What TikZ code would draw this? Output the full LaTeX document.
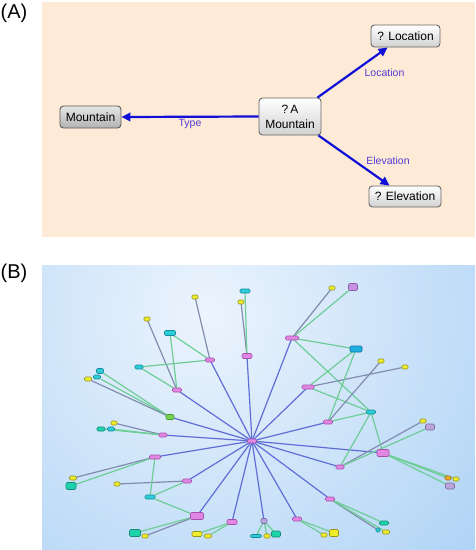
\documentclass[tikz,border=0pt]{standalone}
\usepackage{fontspec}
\setmainfont{Liberation Sans}
\usetikzlibrary{arrows.meta}
\pgfdeclarelayer{bglayer}
\pgfdeclarelayer{edgelayer}
\pgfsetlayers{bglayer,edgelayer,main}
\definecolor{peach}{RGB}{253,235,215}
\definecolor{arrC}{RGB}{15,15,215}
\definecolor{labC}{RGB}{80,60,210}
\definecolor{bgIn}{RGB}{236,244,253}
\definecolor{bgOut}{RGB}{145,195,242}
\definecolor{pkF}{RGB}{225,135,225}\definecolor{pkD}{RGB}{165,80,175}
\definecolor{ylF}{RGB}{238,236,45}\definecolor{ylD}{RGB}{150,150,30}
\definecolor{cyF}{RGB}{45,205,215}\definecolor{cyD}{RGB}{20,140,160}
\definecolor{tlF}{RGB}{30,210,170}\definecolor{tlD}{RGB}{20,140,120}
\definecolor{gnF}{RGB}{120,210,80}\definecolor{gnD}{RGB}{70,150,50}
\definecolor{lvF}{RGB}{185,165,220}\definecolor{lvD}{RGB}{125,110,165}
\definecolor{puF}{RGB}{200,145,225}\definecolor{puD}{RGB}{135,95,165}
\definecolor{orF}{RGB}{230,170,40}\definecolor{orD}{RGB}{160,110,20}
\definecolor{cbF}{RGB}{30,175,225}\definecolor{cbD}{RGB}{20,110,160}
\definecolor{spkC}{RGB}{95,110,215}
\definecolor{grnC}{RGB}{110,205,150}
\definecolor{gryC}{RGB}{130,140,175}
\tikzset{
  anode/.style={draw=black!60, line width=0.9pt, rounded corners=3.5pt, inner sep=0pt,
    top color=white, bottom color=black!18, align=center,
    font=\fontsize{12}{14.5}\selectfont},
  mtnode/.style={anode, top color=black!10, bottom color=black!30, draw=black!65},
  arr/.style={draw=arrC, line width=2.2pt, -{Triangle[length=9pt,width=8.5pt]}},
  lab/.style={text=labC, font=\fontsize{10.5}{12}\selectfont, inner sep=1pt},
  plabel/.style={font=\fontsize{20}{24}\selectfont, inner sep=0pt},
  bnode/.style={line width=0.6pt, rounded corners=1.3pt, inner sep=0pt, outer sep=0pt},
  spoke/.style={draw=spkC, line width=1.2pt},
  grn/.style={draw=grnC, line width=1.2pt},
  gry/.style={draw=gryC, line width=1.2pt}
}
\newcommand\bn[6]{\node[bnode,fill=#1F,draw=#1D,minimum width=#5pt,minimum height=#6pt] (#2) at (#3,#4) {};}
\newcommand\edg[3]{\draw[#1] (#2) -- (#3);}
\begin{document}
\begin{tikzpicture}[x=1pt,y=-1pt]
\useasboundingbox (0,0) rectangle (475,550);
\begin{pgfonlayer}{bglayer}
\fill[peach] (42,2) rectangle (475,236.5);
\begin{scope}
\clip (42,265) rectangle (475,549);
\shade[inner color=bgIn, outer color=bgOut] (205,315) circle (540);
\end{scope}
\end{pgfonlayer}
% ---------- panel labels
\node[plabel] (la) at (14,13) {(A)};
\node[plabel] (lb) at (14,273) {(B)};
% ---------- panel A
\node[mtnode, minimum width=61pt, minimum height=22pt] (mt) at (90.5,117) {Mountain};
\node[anode, minimum width=62pt, minimum height=37pt, font=\fontsize{12}{15}\selectfont] (qa) at (290,116.5) {?\,A\\Mountain};
\node[anode, minimum width=69pt, minimum height=22pt] (loc) at (405.5,36) {? Location};
\node[anode, minimum width=72pt, minimum height=21pt] (elv) at (405,196.5) {? Elevation};
\draw[arr] (qa.west) -- (mt.east) node[lab, midway, below] {Type};
\draw[arr] ([xshift=-4pt]qa.north east) -- ([xshift=17pt]loc.south west) node[lab, midway, xshift=32pt] {Location};
\draw[arr] ([xshift=-3pt]qa.south east) -- ([xshift=21pt]elv.north west) node[lab, midway, xshift=34pt] {Elevation};
% ---------- panel B nodes
\bn{pk}{P1}{177}{390}{9}{4}
\bn{pk}{P2}{210}{360}{9}{4}
\bn{pk}{P3}{247}{356}{10}{5}
\bn{pk}{P4}{292}{338}{13}{4}
\bn{pk}{P5}{308}{387}{12}{4}
\bn{gn}{G1}{170}{417}{8}{5}
\bn{pk}{P6}{163}{435}{8}{4}
\bn{pk}{P7}{155}{457}{11}{4}
\bn{pk}{P8}{187}{481}{9}{4}
\bn{pk}{B1}{197}{516}{13}{7}
\bn{pk}{P9}{232}{522}{10}{5}
\bn{lv}{L1}{264}{521}{6}{5}
\bn{pk}{P10}{297}{519}{9}{4}
\bn{pk}{P11}{330}{499}{9}{4}
\bn{pk}{P12}{340}{467}{8}{4}
\bn{pk}{B2}{383}{453}{12}{7}
\bn{pk}{P13}{328}{422}{9}{4}
\bn{yl}{y1}{147}{319}{6}{4}
\bn{cy}{c1}{170}{333}{11}{5}
\bn{cy}{c2}{139}{367}{8}{4}
\bn{yl}{y2}{195}{297}{6}{4}
\bn{cy}{c3}{245}{291}{10}{4}
\bn{yl}{y3}{241}{302}{6}{4}
\bn{yl}{y4}{332}{288}{6}{4}
\bn{pu}{s1}{353}{287}{9}{7}
\bn{cb}{c4}{356}{349}{12}{6}
\bn{yl}{y5}{381}{361}{6}{4}
\bn{yl}{y6}{405}{367}{6}{4}
\bn{cy}{c5}{371}{412}{9}{4}
\bn{yl}{y7}{423}{421}{6}{4}
\bn{lv}{s2}{430}{427}{9}{6}
\bn{or}{o1}{448}{478}{6}{4}
\bn{yl}{y8}{456}{479}{6}{4}
\bn{lv}{s3}{450}{486}{9}{6}
\bn{tl}{c6}{384}{523}{9}{4}
\bn{cy}{c7}{378}{530}{4}{4}
\bn{yl}{y9}{386}{532}{7}{4}
\bn{yl}{y10}{324}{535}{6}{4}
\bn{yl}{y11}{334}{533}{9}{7}
\bn{cy}{c8}{256}{536}{11}{3}
\bn{yl}{y12}{267}{536}{6}{4}
\bn{tl}{t1}{276}{534}{9}{6}
\bn{yl}{y13}{208}{536}{7}{4}
\bn{yl}{y14}{197}{534}{10}{5}
\bn{tl}{t2}{135}{533}{11}{7}
\bn{yl}{y15}{145}{536}{6}{4}
\bn{cy}{c9}{150}{497}{10}{4}
\bn{yl}{y16}{117}{484}{6}{4}
\bn{yl}{y17}{73}{478}{7}{4}
\bn{tl}{t3}{71}{486}{10}{7}
\bn{yl}{y18}{114}{423}{6}{4}
\bn{cy}{c10}{111}{429}{7}{4}
\bn{tl}{c11}{101}{429}{8}{4}
\bn{cy}{c12}{100}{371}{7}{5}
\bn{cy}{c13}{97}{377}{7}{4}
\bn{yl}{y19}{88}{379}{7}{4}
\bn{pk}{H}{252}{441}{9}{4}
% ---------- panel B edges
\begin{pgfonlayer}{edgelayer}
\foreach \n in {P1,P2,P3,P4,P5,G1,P6,P7,P8,B1,P9,L1,P10,P11,P12,B2,P13}{\edg{spoke}{H}{\n}}
\edg{gry}{P1}{y1}\edg{grn}{P1}{c1}\edg{grn}{P1}{c2}
\edg{gry}{P2}{y2}\edg{grn}{P2}{c1}\edg{grn}{P2}{c2}
\edg{gry}{P3}{y3}\edg{grn}{P3}{c3}
\edg{gry}{P4}{y4}\edg{grn}{P4}{s1}\edg{grn}{P4}{c4}\edg{grn}{P4}{c5}
\edg{grn}{P5}{c4}\edg{gry}{P5}{y6}\edg{grn}{P5}{c5}
\edg{grn}{P13}{c4}\edg{gry}{P13}{y5}\edg{grn}{P13}{c5}
\edg{grn}{P12}{c5}\edg{gry}{P12}{y7}\edg{grn}{P12}{s2}
\edg{grn}{B2}{c5}\edg{grn}{B2}{o1}\edg{grn}{B2}{y8}\edg{grn}{B2}{s3}
\edg{grn}{P11}{c6}\edg{gry}{P11}{c7}\edg{grn}{P11}{y9}
\edg{grn}{P10}{y10}\edg{grn}{P10}{y11}
\edg{grn}{L1}{c8}\edg{grn}{L1}{y12}\edg{grn}{L1}{t1}
\edg{grn}{P9}{y13}\edg{grn}{P9}{y14}
\edg{grn}{B1}{t2}\edg{gry}{B1}{y15}\edg{grn}{B1}{c9}
\edg{gry}{P8}{y16}\edg{grn}{P8}{c9}
\edg{grn}{P7}{c9}\edg{gry}{P7}{y17}\edg{grn}{P7}{t3}
\edg{gry}{P6}{y18}\edg{grn}{P6}{c10}\edg{grn}{P6}{c11}
\edg{grn}{G1}{c12}\edg{grn}{G1}{c13}\edg{gry}{G1}{y19}
\end{pgfonlayer}
\end{tikzpicture}
\end{document}
